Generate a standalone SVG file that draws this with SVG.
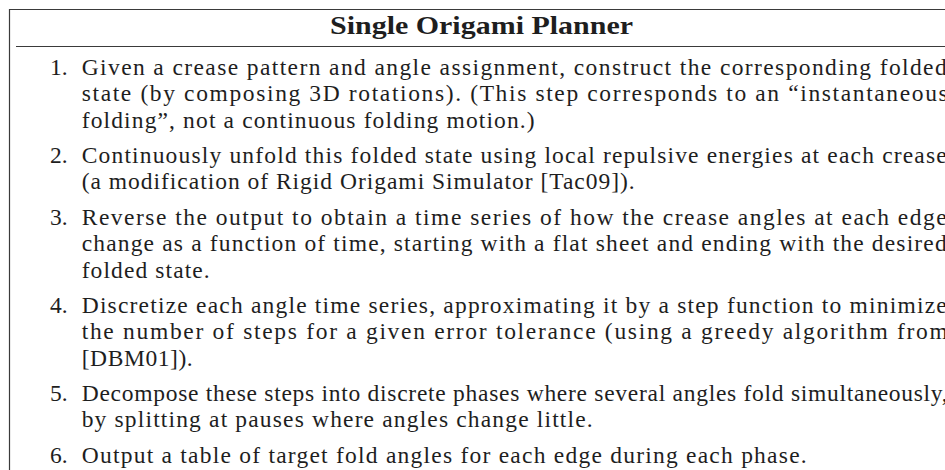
<svg xmlns="http://www.w3.org/2000/svg" width="945" height="470" viewBox="0 0 945 470">
<style>
.rule{stroke:#3a3a3a;stroke-width:1.2;fill:none}
.t{font-family:"Liberation Serif","Times New Roman",serif;font-size:23.5px;fill:#1e1e1e}
.h{font-family:"Liberation Serif","Times New Roman",serif;font-size:25.5px;font-weight:bold;fill:#1e1e1e}
</style>
<rect x="0" y="0" width="945" height="470" fill="#ffffff"/>
<g id="frame">
<path class="rule" d="M9.5,470 V9.5 H946"/>
<path class="rule" d="M16,46.5 H946"/>
</g>
<g id="title">
<text class="h" x="330" y="34" textLength="303" lengthAdjust="spacingAndGlyphs">Single Origami Planner</text>
</g>
<g id="item1">
<text class="t" x="50" y="75">1.</text>
<text class="t" x="81.7" y="75" textLength="865" lengthAdjust="spacing">Given a crease pattern and angle assignment, construct the corresponding folded</text>
<text class="t" x="81.7" y="101.3" textLength="866" lengthAdjust="spacing">state (by composing 3D rotations). (This step corresponds to an “instantaneous</text>
<text class="t" x="81.7" y="127.6" textLength="453" lengthAdjust="spacing">folding”, not a continuous folding motion.)</text>
</g>
<g id="item2">
<text class="t" x="50" y="163.1">2.</text>
<text class="t" x="81.7" y="163.1" textLength="865" lengthAdjust="spacing">Continuously unfold this folded state using local repulsive energies at each crease</text>
<text class="t" x="81.7" y="189.4" textLength="553" lengthAdjust="spacing">(a modification of Rigid Origami Simulator [Tac09]).</text>
</g>
<g id="item3">
<text class="t" x="50" y="224.9">3.</text>
<text class="t" x="81.7" y="224.9" textLength="865" lengthAdjust="spacing">Reverse the output to obtain a time series of how the crease angles at each edge</text>
<text class="t" x="81.7" y="251.2" textLength="865" lengthAdjust="spacing">change as a function of time, starting with a flat sheet and ending with the desired</text>
<text class="t" x="81.7" y="277.5" textLength="128" lengthAdjust="spacing">folded state.</text>
</g>
<g id="item4">
<text class="t" x="50" y="313">4.</text>
<text class="t" x="81.7" y="313" textLength="865" lengthAdjust="spacing">Discretize each angle time series, approximating it by a step function to minimize</text>
<text class="t" x="81.7" y="339.3" textLength="866" lengthAdjust="spacing">the number of steps for a given error tolerance (using a greedy algorithm from</text>
<text class="t" x="81.7" y="365.6" textLength="111" lengthAdjust="spacing">[DBM01]).</text>
</g>
<g id="item5">
<text class="t" x="50" y="401.1">5.</text>
<text class="t" x="81.7" y="401.1" textLength="866" lengthAdjust="spacing">Decompose these steps into discrete phases where several angles fold simultaneously,</text>
<text class="t" x="81.7" y="427.4" textLength="511" lengthAdjust="spacing">by splitting at pauses where angles change little.</text>
</g>
<g id="item6">
<text class="t" x="50" y="462.9">6.</text>
<text class="t" x="81.7" y="462.9" textLength="725" lengthAdjust="spacing">Output a table of target fold angles for each edge during each phase.</text>
</g>
</svg>
